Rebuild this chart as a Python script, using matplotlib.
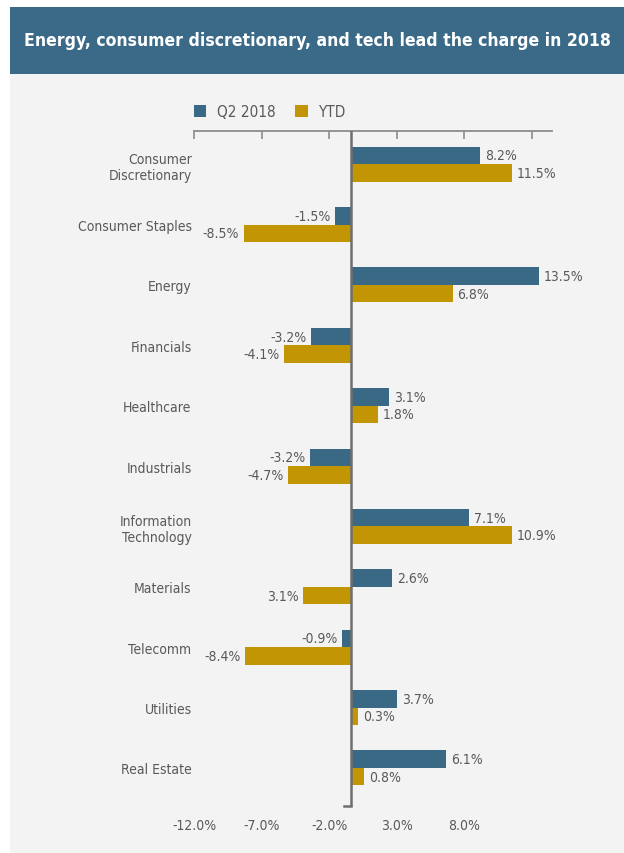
import matplotlib.pyplot as plt
from matplotlib.patches import Rectangle
import numpy as np

plt.rcParams['font.family'] = ['DejaVu Sans']
plt.rcParams['font.stretch'] = 'condensed'

sectors = ["Consumer\nDiscretionary", "Consumer Staples", "Energy", "Financials",
           "Healthcare", "Industrials", "Information\nTechnology", "Materials",
           "Telecomm", "Utilities", "Real Estate"]
# bar lengths as drawn in the picture
q2_bar = [9.56, -1.19, 13.93, -2.96, 2.81, -3.04, 8.74, 3.04, -0.67, 3.41, 7.04]
ytd_bar = [11.93, -7.93, 7.53, -4.96, 1.98, -4.67, 11.93, -3.56, -7.85, 0.52, 0.96]
# data labels as printed
q2_labels = ["8.2%", "-1.5%", "13.5%", "-3.2%", "3.1%", "-3.2%", "7.1%", "2.6%", "-0.9%", "3.7%", "6.1%"]
ytd_labels = ["11.5%", "-8.5%", "6.8%", "-4.1%", "1.8%", "-4.7%", "10.9%", "3.1%", "-8.4%", "0.3%", "0.8%"]
tick_labels = ["-12.0%", "-7.0%", "-2.0%", "3.0%", "8.0%", ""]

blue = '#3a6986'
gold = '#c19504'
text_col = '#595959'
axis_col = '#8c8c8c'

W, H = 624, 854
fig = plt.figure(figsize=(W / 100, H / 100), dpi=100)
fig.patch.set_facecolor('white')

# светлая панель и синяя шапка
fig.add_artist(Rectangle((10 / W, 0), 1, 1 - 75 / H, transform=fig.transFigure,
                         facecolor='#f2f3f2', edgecolor='none', zorder=0))
fig.add_artist(Rectangle((10 / W, 1 - 75 / H), 1, 67 / H, transform=fig.transFigure,
                         facecolor='#3b6a89', edgecolor='none', zorder=0))
fig.text((10 + W) / 2 / W, 1 - 41 / H,
         "Energy, consumer discretionary, and tech lead the charge in 2018",
         color='white', fontsize=12.6, fontweight='bold', ha='center', va='center')

ax = fig.add_axes([194.3 / W, 1 - 807 / H, (552 - 194.3) / W, (807 - 132) / H])
ax.set_facecolor('none')

y = np.arange(len(sectors))
h = 0.29
ax.barh(y - h / 2, q2_bar, height=h, color=blue, label='Q2 2018', zorder=2)
ax.barh(y + h / 2, ytd_bar, height=h, color=gold, label='YTD', zorder=2)

for yy, v, lab in zip(y - h / 2, q2_bar, q2_labels):
    ax.text(v + (0.35 if v >= 0 else -0.35), yy, lab, ha='left' if v >= 0 else 'right',
            va='center', fontsize=10, color=text_col)
for yy, v, lab in zip(y + h / 2, ytd_bar, ytd_labels):
    ax.text(v + (0.35 if v >= 0 else -0.35), yy, lab, ha='left' if v >= 0 else 'right',
            va='center', fontsize=10, color=text_col)

ax.set_xlim(-11.61, 14.89)
ax.set_ylim(10.63, -0.55)
ax.set_yticks(y)
ax.set_yticklabels(sectors, fontsize=10, color=text_col)
ax.tick_params(axis='y', length=0, pad=2)

ticks = np.arange(-11.6, 14, 5.0)
ax.set_xticks(ticks)
ax.set_xticklabels(tick_labels, fontsize=10, color=text_col)
ax.tick_params(axis='x', top=True, bottom=False, labeltop=False, labelbottom=True,
               direction='in', length=5.5, width=1.2, color=axis_col, pad=9)

for side in ['left', 'right', 'bottom']:
    ax.spines[side].set_visible(False)
ax.spines['top'].set_color(axis_col)
ax.spines['top'].set_linewidth(1.3)

ax.axvline(0, color='#6e6e6e', linewidth=1.8, zorder=3)
ax.plot([-0.55, 0], [10.63, 10.63], color='#6e6e6e', linewidth=1.8, clip_on=False, zorder=3)

leg = ax.legend(loc='lower left', bbox_to_anchor=(-0.018, 1.008), ncol=2, frameon=False,
                fontsize=11, handlelength=0.8, handleheight=0.8, handletextpad=0.7,
                columnspacing=1.3, borderaxespad=0)
for t in leg.get_texts():
    t.set_color(text_col)

plt.savefig('out.png', dpi=100)
